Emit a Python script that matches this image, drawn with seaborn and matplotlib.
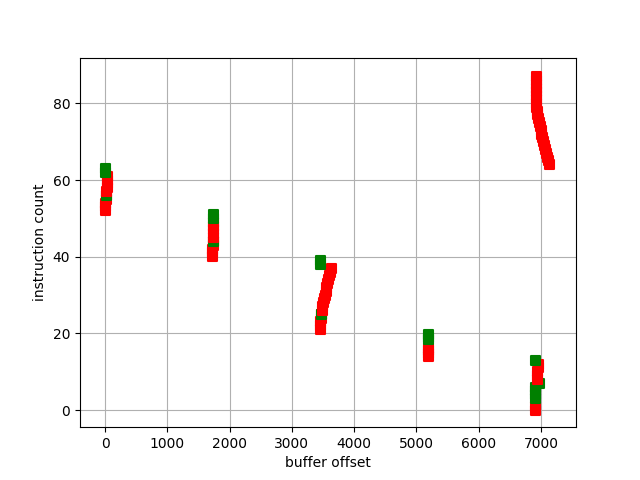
import matplotlib
matplotlib.use("Agg")
import matplotlib.pyplot as plt
import seaborn as sns
import pandas as pd

# reads (red)
read_offsets = [10, 12, 15, 18, 22, 26, 32, 38, 42, 46,
                1730, 1730, 1732, 1734, 1735, 1736, 1737, 1738, 1740, 1742,
                3462, 3464, 3467, 3472, 3478, 3487, 3497, 3510, 3524, 3536,
                3549, 3561, 3573, 3588, 3602, 3616, 3630,
                5196, 5198, 5200, 5200,
                6922, 6922, 6922, 6922, 6923, 6924, 6926, 6928, 6932, 6938,
                6948, 6960, 6974, 6990, 7003, 7016, 7030, 7043, 7058, 7073,
                7089, 7105, 7120, 7137,
                6920, 6920, 6940, 6945, 6950, 6955, 6962]
read_counts = [52, 53, 54, 55, 56, 57, 58, 59, 60, 61,
               40, 41, 42, 43, 44, 45, 46, 47, 48, 49,
               21, 22, 23, 24, 25, 26, 27, 28, 29, 30,
               31, 32, 33, 34, 35, 36, 37,
               14, 14.8, 15.5, 16.2,
               87, 86, 85, 84, 83, 82, 81, 80, 79, 78,
               77, 76, 75, 74, 73, 72, 71, 70, 69, 68,
               67, 66, 65, 64,
               0, 1, 8, 9, 10, 11, 12]

# writes (green)
write_offsets = [14, 14, 20,
                 1743, 1743, 1738,
                 3466, 3466, 3482,
                 5196, 5196, 5196,
                 6918, 6918, 6918, 6918, 6980, 6918]
write_counts = [62, 63, 56,
                50, 51, 44,
                38, 39, 25,
                18.3, 19, 19.7,
                3, 4, 5, 6, 7, 13]

reads = pd.DataFrame({'buffer offset': read_offsets,
                      'instruction count': read_counts, 'access': 'read'})
writes = pd.DataFrame({'buffer offset': write_offsets,
                       'instruction count': write_counts, 'access': 'write'})
df = pd.concat([reads, writes], ignore_index=True)
# draw in execution order
df = df.sort_values('instruction count', kind='mergesort')

fig, ax = plt.subplots(figsize=(6.4, 4.8), dpi=100)
sns.scatterplot(data=df, x='buffer offset', y='instruction count', hue='access',
                palette={'read': 'red', 'write': 'green'}, marker='s', s=42,
                edgecolor='face', linewidth=1.5, legend=False, ax=ax)
ax.set_xlim(-402, 7563)
ax.set_ylim(-4.44, 91.93)
ax.set_xticks(range(0, 8000, 1000))
ax.grid(True)
ax.set_axisbelow(True)

fig.savefig('out.png', dpi=100)
